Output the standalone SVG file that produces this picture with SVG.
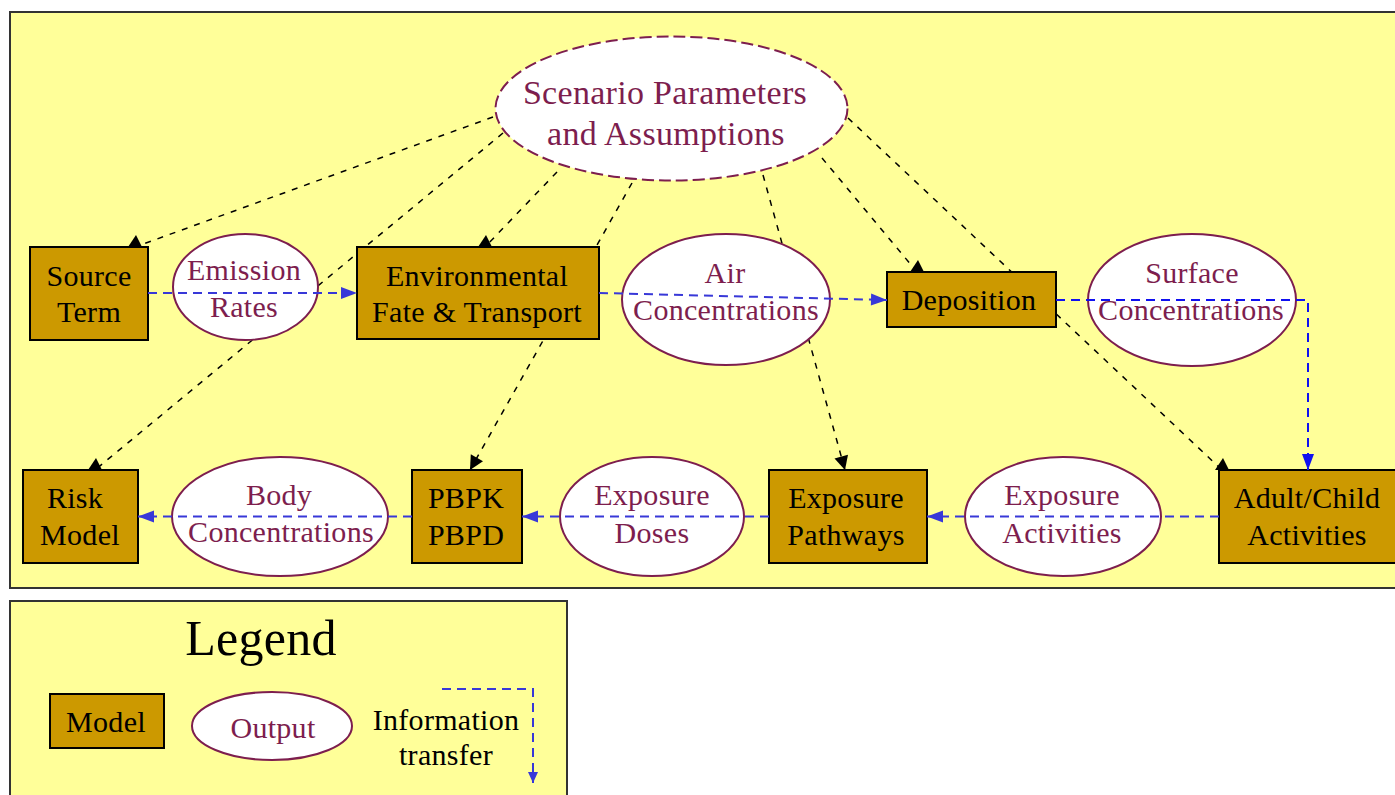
<svg xmlns="http://www.w3.org/2000/svg" width="1395" height="795" viewBox="0 0 1395 795">
  <style>
    .panel { fill: #FFFF99; stroke: #333333; stroke-width: 2; }
    .model rect { fill: #CC9900; stroke: #000000; stroke-width: 2; }
    .model text { fill: #000000; }
    .output ellipse { fill: #FFFFFF; stroke: #7D1E4E; stroke-width: 2; }
    .output text { fill: #7D1E4E; }
    .scenario ellipse { stroke-dasharray: 12 5; }
    text { font-family: "Liberation Serif", "Times New Roman", serif; font-size: 30px; letter-spacing: 0.3px; text-anchor: middle; }
    .context { fill: none; stroke: #000000; stroke-width: 1.5; stroke-dasharray: 6 7; }
    .flow { fill: none; stroke: #3838D8; stroke-width: 2; stroke-dasharray: 9 6; }
    .flow.bright { stroke: #1010F0; }
  </style>
  <defs>
    <!-- filled head pointing along the line -->
    <marker id="head" markerUnits="userSpaceOnUse" viewBox="-15 -8 16 16" refX="0" refY="0" markerWidth="16" markerHeight="16" orient="auto">
      <path d="M0,0 L-14,-7 L-14,7 z" fill="#000000"/>
    </marker>
    <!-- upright cap sitting on the top edge of a box -->
    <marker id="cap" markerUnits="userSpaceOnUse" viewBox="-8 -14 16 16" refX="0" refY="0" markerWidth="16" markerHeight="16" orient="0">
      <path d="M-7,0 L7,0 L1,-12 z" fill="#000000"/>
    </marker>
    <marker id="flowHead" markerUnits="userSpaceOnUse" viewBox="-17 -8 18 16" refX="0" refY="0" markerWidth="18" markerHeight="16" orient="auto">
      <path d="M0,0 L-16,-6 L-16,6 z" fill="#3838D8"/>
    </marker>
    <marker id="flowHeadBright" markerUnits="userSpaceOnUse" viewBox="-17 -8 18 16" refX="0" refY="0" markerWidth="18" markerHeight="16" orient="auto">
      <path d="M0,0 L-16,-6 L-16,6 z" fill="#1010F0"/>
    </marker>
    <marker id="flowHeadSmall" markerUnits="userSpaceOnUse" viewBox="-12 -6 13 12" refX="0" refY="0" markerWidth="13" markerHeight="12" orient="auto">
      <path d="M0,0 L-11,-5 L-11,5 z" fill="#3838D8"/>
    </marker>
  </defs>

  <!-- main panel -->
  <rect class="panel" x="10" y="12" width="1395" height="576"/>

  <!-- scenario links, drawn beneath the nodes -->
  <g id="links-context">
    <line class="context" x1="493" y1="117" x2="135" y2="247" marker-end="url(#cap)"/>
    <line class="context" x1="503" y1="133" x2="95" y2="470" marker-end="url(#cap)"/>
    <line class="context" x1="557" y1="172" x2="485" y2="247" marker-end="url(#cap)"/>
    <line class="context" x1="632" y1="183" x2="470" y2="470" marker-end="url(#head)"/>
    <line class="context" x1="763" y1="175" x2="845" y2="470" marker-end="url(#head)"/>
    <line class="context" x1="822" y1="158" x2="917" y2="272" marker-end="url(#cap)"/>
    <line class="context" x1="848" y1="118" x2="1222" y2="470" marker-end="url(#cap)"/>
  </g>

  <!-- nodes -->
  <g id="node-scenario" class="output scenario">
    <ellipse cx="671.5" cy="108.5" rx="176" ry="72"/>
    <text x="665" y="104" style="font-size:34px">Scenario Parameters</text>
    <text x="666" y="145" style="font-size:34px">and Assumptions</text>
  </g>

  <g id="node-source-term" class="model">
    <rect x="30" y="247" width="118" height="93"/>
    <text x="89" y="286">Source</text>
    <text x="89" y="322">Term</text>
  </g>

  <g id="node-emission-rates" class="output">
    <ellipse cx="245.5" cy="287" rx="72.5" ry="53"/>
    <text x="244" y="280">Emission</text>
    <text x="244" y="317">Rates</text>
  </g>

  <g id="node-fate-transport" class="model">
    <rect x="357" y="247" width="242" height="92"/>
    <text x="477" y="286">Environmental</text>
    <text x="477" y="322">Fate &amp; Transport</text>
  </g>

  <g id="node-air-conc" class="output">
    <ellipse cx="726" cy="299.5" rx="104" ry="65.5"/>
    <text x="725" y="283">Air</text>
    <text x="726" y="320">Concentrations</text>
  </g>

  <g id="node-deposition" class="model">
    <rect x="887" y="272" width="169" height="55"/>
    <text x="969" y="310">Deposition</text>
  </g>

  <g id="node-surface-conc" class="output">
    <ellipse cx="1192" cy="300" rx="104" ry="66"/>
    <text x="1192" y="283">Surface</text>
    <text x="1191" y="320">Concentrations</text>
  </g>

  <g id="node-risk-model" class="model">
    <rect x="23" y="470" width="115" height="93"/>
    <text x="75" y="508">Risk</text>
    <text x="80" y="545">Model</text>
  </g>

  <g id="node-body-conc" class="output">
    <ellipse cx="280" cy="516.5" rx="108" ry="59.5"/>
    <text x="279" y="505">Body</text>
    <text x="281" y="542">Concentrations</text>
  </g>

  <g id="node-pbpk" class="model">
    <rect x="412" y="470" width="110" height="93"/>
    <text x="466" y="508">PBPK</text>
    <text x="466" y="545">PBPD</text>
  </g>

  <g id="node-exposure-doses" class="output">
    <ellipse cx="652" cy="516.5" rx="92" ry="59.5"/>
    <text x="652" y="505">Exposure</text>
    <text x="652" y="543">Doses</text>
  </g>

  <g id="node-exposure-pathways" class="model">
    <rect x="769" y="470" width="158" height="93"/>
    <text x="846" y="508">Exposure</text>
    <text x="846" y="545">Pathways</text>
  </g>

  <g id="node-exposure-activities" class="output">
    <ellipse cx="1063" cy="516.5" rx="98" ry="59.5"/>
    <text x="1062" y="505">Exposure</text>
    <text x="1062" y="543">Activities</text>
  </g>

  <g id="node-adult-child" class="model">
    <rect x="1219" y="470" width="190" height="93"/>
    <text x="1307" y="508">Adult/Child</text>
    <text x="1307" y="545">Activities</text>
  </g>

  <!-- information transfer links, drawn over the outputs -->
  <g id="links-flow">
    <line class="flow" x1="148" y1="293" x2="357" y2="293" marker-end="url(#flowHead)"/>
    <line class="flow" x1="599" y1="293" x2="887" y2="300" marker-end="url(#flowHead)"/>
    <polyline class="flow bright" points="1056,300 1308,300 1308,470" marker-end="url(#flowHeadBright)"/>
    <line class="flow" x1="1219" y1="516.5" x2="927" y2="516.5" marker-end="url(#flowHead)"/>
    <line class="flow" x1="769" y1="516.5" x2="522" y2="516.5" marker-end="url(#flowHead)"/>
    <line class="flow" x1="412" y1="516.5" x2="138" y2="516.5" marker-end="url(#flowHead)"/>
  </g>

  <!-- legend -->
  <g id="legend">
    <rect class="panel" x="10" y="601" width="557" height="210"/>
    <text x="261" y="655" style="font-size:50px">Legend</text>
    <g id="legend-model" class="model">
      <rect x="50" y="694" width="114" height="54"/>
      <text x="106" y="732">Model</text>
    </g>
    <g id="legend-output" class="output">
      <ellipse cx="272" cy="726" rx="80" ry="34"/>
      <text x="273" y="738">Output</text>
    </g>
    <g id="legend-transfer">
      <text x="446" y="730">Information</text>
      <text x="446" y="765">transfer</text>
      <polyline class="flow" points="442,689 533,689 533,783" marker-end="url(#flowHeadSmall)"/>
    </g>
  </g>
</svg>
